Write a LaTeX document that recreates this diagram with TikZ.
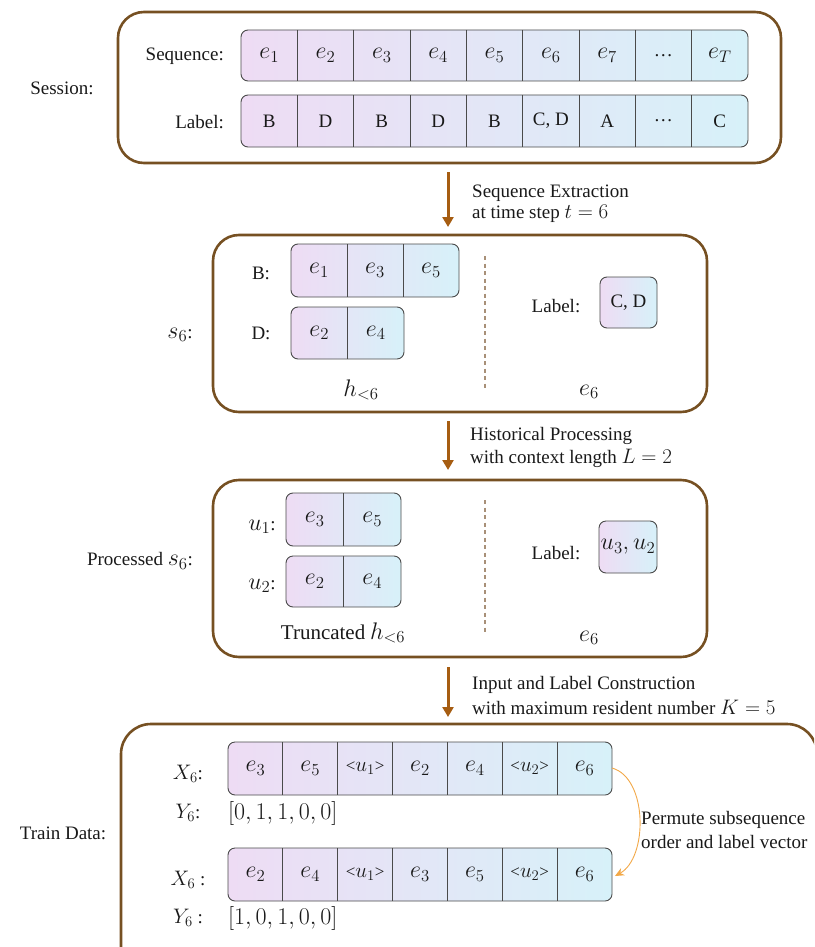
\RequirePackage{fix-cm}
\documentclass[tikz,border=0pt]{standalone}
\usepackage{fontspec}
\setmainfont{Liberation Serif}
\usetikzlibrary{arrows.meta}

\definecolor{brownbox}{HTML}{765022}
\definecolor{arrowc}{HTML}{A65D12}
\definecolor{purp}{HTML}{EEDCF4}
\definecolor{cyanc}{HTML}{D7F1F9}
\definecolor{cellline}{HTML}{4A4A4A}
\definecolor{dashc}{HTML}{A89078}
\definecolor{orangec}{HTML}{F2A848}

\newcommand{\mm}[1]{{\fontsize{24}{26}\selectfont$#1$}}
\newcommand{\mi}[1]{{\fontsize{21}{23}\selectfont$#1$}}
\newcommand{\angu}[1]{{\fontsize{17}{19}\selectfont <\mi{u_#1}>}}

\tikzset{
  outerbox/.style={draw=brownbox, line width=2.6pt, rounded corners=26pt},
  barbox/.style={draw=cellline, line width=0.9pt, rounded corners=7pt, left color=purp, right color=cyanc},
  divider/.style={draw=cellline, line width=0.8pt},
  flowarrow/.style={draw=arrowc, line width=3pt, -{Triangle[length=10pt,width=11pt]}},
  txt/.style={font=\fontsize{19}{22}\selectfont, inner sep=0pt, text=black!90},
  sepline/.style={draw=dashc, line width=1.2pt, dash pattern=on 4pt off 3.5pt},
}

% name, x0, y0, cell width, height, number of cells, contents
\newcommand{\cellbar}[7]{%
  \path[barbox] (#2,#3) rectangle ({#2+#4*#6},{#3+#5});
  \pgfmathtruncatemacro\cbm{#6-1}%
  \foreach \k in {1,...,\cbm}{\draw[divider] ({#2+\k*#4},#3) -- ({#2+\k*#4},{#3+#5});}
  \foreach \t [count=\k] in {#7}{\node[txt] (#1\k) at ({#2+(\k-0.5)*#4},{#3+#5/2}) {\t};}
}

\begin{document}
\begin{tikzpicture}[x=1pt,y=-1pt]
\useasboundingbox (0,0) rectangle (814,947);

% ---------- Session ----------
\draw[outerbox] (118,12) rectangle (781,163);
\node[txt] (session) at (62,88) {Session:};
\node[txt, anchor=east] (seqlab) at (224,56) {Sequence:};
\node[txt, anchor=east] (lablab) at (224,122) {Label:};
\cellbar{seq}{241}{30}{56.33}{51}{9}{\mm{e_1},\mm{e_2},\mm{e_3},\mm{e_4},\mm{e_5},\mm{e_6},\mm{e_7},{\dots},\mm{e_T}}
\cellbar{lab}{241}{95}{56.33}{52}{9}{B,D,B,D,B,{C, D},A,{\dots},C}

% ---------- arrow 1 ----------
\coordinate (a1s) at (448,172);
\coordinate (a1e) at (448,227);
\draw[flowarrow] (a1s) -- (a1e);
\node[txt, anchor=west] (t1a) at (472,193) {Sequence Extraction};
\node[txt, anchor=west] (t1b) at (472,214) {at time step \mi{t = 6}};

% ---------- s6 ----------
\draw[outerbox] (213,235) rectangle (707,412);
\node[txt] (s6) at (180,335) {\mm{s_6}:};
\node[txt] (blab) at (261,273) {B:};
\node[txt] (dlab) at (261,333) {D:};
\cellbar{bb}{291}{244}{56}{53}{3}{\mm{e_1},\mm{e_3},\mm{e_5}}
\cellbar{db}{291}{307}{56.5}{52}{2}{\mm{e_2},\mm{e_4}}
\node[txt] (hlt) at (361,390) {\mm{h_{<6}}};
\draw[sepline] (485,256) -- (485,390);
\node[txt] (lab2) at (556,306) {Label:};
\path[barbox] (600,277) rectangle (657,328);
\node[txt] (cd) at (628.5,302.5) {C, D};
\node[txt] (e6a) at (589,392) {\mm{e_6}};

% ---------- arrow 2 ----------
\coordinate (a2s) at (448,421);
\coordinate (a2e) at (448,470);
\draw[flowarrow] (a2s) -- (a2e);
\node[txt, anchor=west] (t2a) at (470,436) {Historical Processing};
\node[txt, anchor=west] (t2b) at (470,458) {with context length \mi{L = 2}};

% ---------- processed s6 ----------
\draw[outerbox] (213,480) rectangle (707,657);
\node[txt] (ps6) at (140,561) {Processed \mm{s_6}:};
\node[txt] (u1lab) at (262,527) {\mm{u_1}:};
\node[txt] (u2lab) at (262,586) {\mm{u_2}:};
\cellbar{ua}{286}{493}{57.5}{53}{2}{\mm{e_3},\mm{e_5}}
\cellbar{ub}{286}{556}{57.5}{51}{2}{\mm{e_2},\mm{e_4}}
\node[txt] (trunc) at (343,633) {{\fontsize{21}{23}\selectfont Truncated} \mm{h_{<6}}};
\draw[sepline] (485,500) -- (485,633);
\node[txt] (lab3) at (556,553) {Label:};
\path[barbox] (599,521) rectangle (657,573);
\node[txt] (uu) at (628,547) {\mm{u_3,u_2}};
\node[txt] (e6b) at (589,638) {\mm{e_6}};

% ---------- arrow 3 ----------
\coordinate (a3s) at (448,667);
\coordinate (a3e) at (448,717);
\draw[flowarrow] (a3s) -- (a3e);
\node[txt, anchor=west] (t3a) at (472,685) {Input and Label Construction};
\node[txt, anchor=west] (t3b) at (472,707) {with maximum resident number \mi{K = 5}};

% ---------- train data ----------
\begin{scope}
\clip (0,0) rectangle (814,947);
\draw[outerbox, rounded corners=30pt] (121,724) rectangle (817,990);
\end{scope}
\node[txt] (train) at (63,833) {Train Data:};
\node[txt] (x6a) at (188,774) {\mi{X_6}:};
\node[txt] (y6a) at (188,813) {\mi{Y_6}:};
\node[txt, anchor=west] (vya) at (228,813) {\mm{[0,1,1,0,0]}};
\node[txt] (x6b) at (188,880) {\mi{X_6} :};
\node[txt] (y6b) at (188,918) {\mi{Y_6} :};
\node[txt, anchor=west] (vyb) at (228,918) {\mm{[1,0,1,0,0]}};
\cellbar{xa}{228}{742}{54.86}{53}{7}{\mm{e_3},\mm{e_5},\angu{1},\mm{e_2},\mm{e_4},\angu{2},\mm{e_6}}
\cellbar{xb}{228}{848}{54.86}{53}{7}{\mm{e_2},\mm{e_4},\angu{1},\mm{e_3},\mm{e_5},\angu{2},\mm{e_6}}
\coordinate (pa) at (612,768);
\coordinate (pb) at (615,876);
\draw[orangec, line width=0.9pt, -{Stealth[length=9pt,width=8pt]}] (pa) .. controls (648,778) and (648,858) .. (pb);
\node[txt, anchor=west] (perm1) at (641,820) {Permute subsequence};
\node[txt, anchor=west] (perm2) at (641,842) {order and label vector};
\end{tikzpicture}
\end{document}
